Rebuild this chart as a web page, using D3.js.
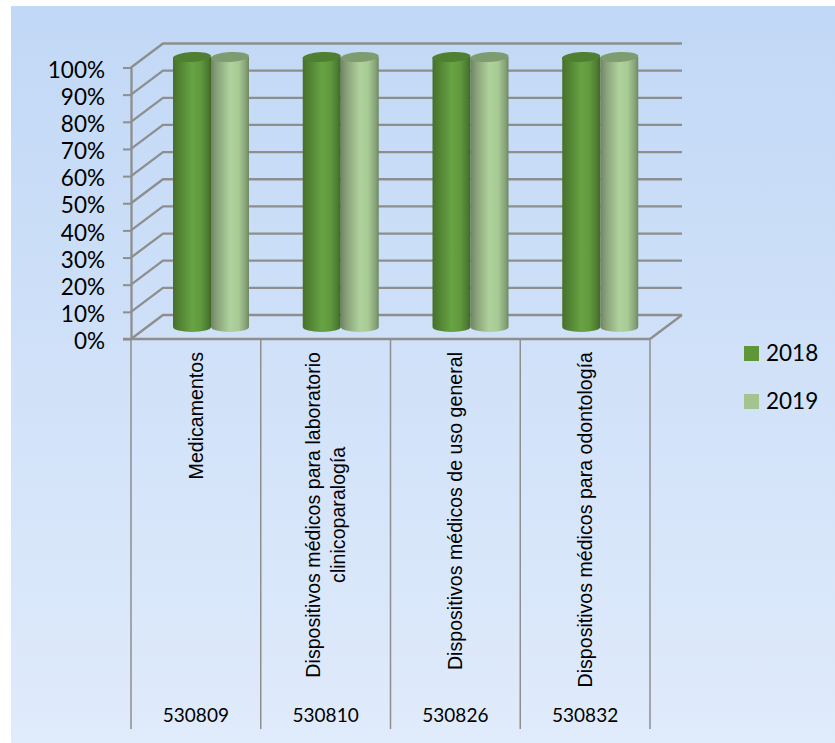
<!DOCTYPE html>
<html>
<head>
<meta charset="utf-8">
<script src="https://d3js.org/d3.v7.js"></script>
<style>
  html, body { margin: 0; padding: 0; background: #fff; }
  svg { display: block; }
  text { font-family: Lato, "Open Sans", sans-serif; fill: #000; }
</style>
</head>
<body>
<div id="content"></div>
<script>
const categoryLines = [["Medicamentos"], ["Dispositivos médicos para laboratorio", "clinicoparalogía"], ["Dispositivos médicos de uso general"], ["Dispositivos médicos para odontología"]];
const codes = ["530809", "530810", "530826", "530832"];
const years = ["2018", "2019"];
const values2018 = [100, 100, 100, 100];
const values2019 = [100, 100, 100, 100];
const yTicks = [0, 10, 20, 30, 40, 50, 60, 70, 80, 90, 100];

const width = 835, height = 743;
const depthX = 32, depthY = -24; // 3d box offset
const gridColor = "#8e8e8e";

const svg = d3.select("#content").append("svg")
  .attr("width", width).attr("height", height);
const defs = svg.append("defs");

// background gradient
const bg = defs.append("linearGradient").attr("id", "bg")
  .attr("x1", 0).attr("y1", 0).attr("x2", 0).attr("y2", 1);
bg.append("stop").attr("offset", "0%").attr("stop-color", "#c1d8f6");
bg.append("stop").attr("offset", "100%").attr("stop-color", "#e0ebfb");
svg.append("rect").attr("x", 11).attr("y", 6).attr("width", width - 11).attr("height", height - 6)
  .attr("fill", "url(#bg)");

// cylinder shading
function cylGrad(id, stops) {
  const g = defs.append("linearGradient").attr("id", id);
  stops.forEach(s => g.append("stop").attr("offset", s[0]).attr("stop-color", s[1]));
}
cylGrad("side2018", [["0%", "#47702c"], ["14%", "#4f7f31"], ["50%", "#67a343"], ["72%", "#619a3e"], ["92%", "#4c7a30"], ["100%", "#406628"]]);
cylGrad("side2019", [["0%", "#6f8563"], ["14%", "#879f78"], ["50%", "#afd29c"], ["72%", "#a8cb95"], ["92%", "#86a178"], ["100%", "#70875f"]]);
const topFill = { "2018": "#4f7f30", "2019": "#7d9d70" };
const swatch = { "2018": "#5f9638", "2019": "#a3c48f" };
const sideFill = { "2018": "url(#side2018)", "2019": "url(#side2019)" };

const x = d3.scaleBand().domain(codes).range([131, 650]);
const y = d3.scaleLinear().domain([0, 100]).range([339, 67.5]);
const inner = d3.scaleBand().domain(years).range([42, 118]);

// back wall, left wall and floor lines
const grid = svg.append("g").attr("fill", "none").attr("stroke", gridColor).attr("stroke-width", 2.3);
grid.selectAll("path.g").data(yTicks).enter().append("path")
  .attr("class", "g")
  .attr("d", d => d3.line()([[131, y(d)], [131 + depthX, y(d) + depthY], [682, y(d) + depthY]]));
grid.append("path").attr("d", d3.line()([[682, y(0) + depthY], [650, y(0)]]));

// cylinders
const rows = years.flatMap((yr, i) => codes.map((c, j) => ({
  year: yr, code: c, value: (i === 0 ? values2018 : values2019)[j]
})));
const rx = inner.bandwidth() / 2, ry = 5, lift = 12;
const bars = svg.append("g");
rows.forEach(d => {
  const l = x(d.code) + inner(d.year), r = l + inner.bandwidth();
  const yb = y(0) - lift, yt = y(d.value) - lift + 1.5;
  const g = bars.append("g");
  g.append("path")
    .attr("d", `M${l},${yt} L${l},${yb} A${rx},${ry} 0 0 0 ${r},${yb} L${r},${yt} Z`)
    .attr("fill", sideFill[d.year]);
  g.append("ellipse")
    .attr("cx", (l + r) / 2).attr("cy", yt).attr("rx", rx).attr("ry", ry)
    .attr("transform", `rotate(-3 ${(l + r) / 2} ${yt})`)
    .attr("fill", topFill[d.year]);
});

// y axis
const yAxis = d3.axisLeft(y).tickValues(yTicks).tickFormat(d => d + "%").tickSize(8).tickSizeOuter(0);
const ya = svg.append("g").attr("transform", "translate(131,0)").call(yAxis);
ya.select(".domain").attr("stroke", gridColor).attr("stroke-width", 2.3);
ya.selectAll(".tick line").attr("stroke", gridColor).attr("stroke-width", 2);
ya.selectAll(".tick text").attr("font-size", 22.5).attr("x", -26)
  .attr("font-family", "Lato").attr("fill", "#000").attr("dy", "0.43em");

// x axis with multilevel separators
svg.append("line").attr("x1", 123).attr("x2", 650).attr("y1", y(0)).attr("y2", y(0))
  .attr("stroke", gridColor).attr("stroke-width", 2.6);
const seps = x.domain().map(c => x(c)).concat([x.range()[1]]);
svg.append("g").selectAll("line").data(seps).enter().append("line")
  .attr("x1", d => d).attr("x2", d => d).attr("y1", y(0)).attr("y2", 729)
  .attr("stroke", gridColor).attr("stroke-width", 1.5);

// rotated category labels
const catG = svg.append("g");
codes.forEach((c, i) => {
  const cx = x(c) + x.bandwidth() / 2;
  const lines = categoryLines[i];
  const t = catG.append("text")
    .attr("transform", `translate(${cx},352) rotate(-90)`)
    .attr("text-anchor", "end")
    .style("font-family", "'Liberation Sans', sans-serif")
    .attr("font-size", 19.6);
  lines.forEach((ln, k) => {
    t.append("tspan").attr("x", 0)
      .attr("y", (k - (lines.length - 1) / 2) * 25 + 7).text(ln);
  });
  if (lines.length > 1) {
    // second line is centred under the first
    const first = t.select("tspan").node().getComputedTextLength();
    t.attr("text-anchor", "middle").selectAll("tspan").attr("x", -first / 2);
  }
  catG.append("text").attr("x", cx).attr("y", 722).attr("text-anchor", "middle")
    .attr("font-size", 19).text(codes[i]);
});

// legend
const leg = d3.scalePoint().domain(years).range([353.5, 401.5]);
const lg = svg.append("g");
years.forEach(yr => {
  lg.append("rect").attr("x", 744).attr("y", leg(yr) - 7.5).attr("width", 15).attr("height", 15).attr("fill", swatch[yr]);
  lg.append("text").attr("x", 766).attr("y", leg(yr) + 7.5).attr("font-size", 22.5).text(yr);
});
</script>
</body>
</html>
